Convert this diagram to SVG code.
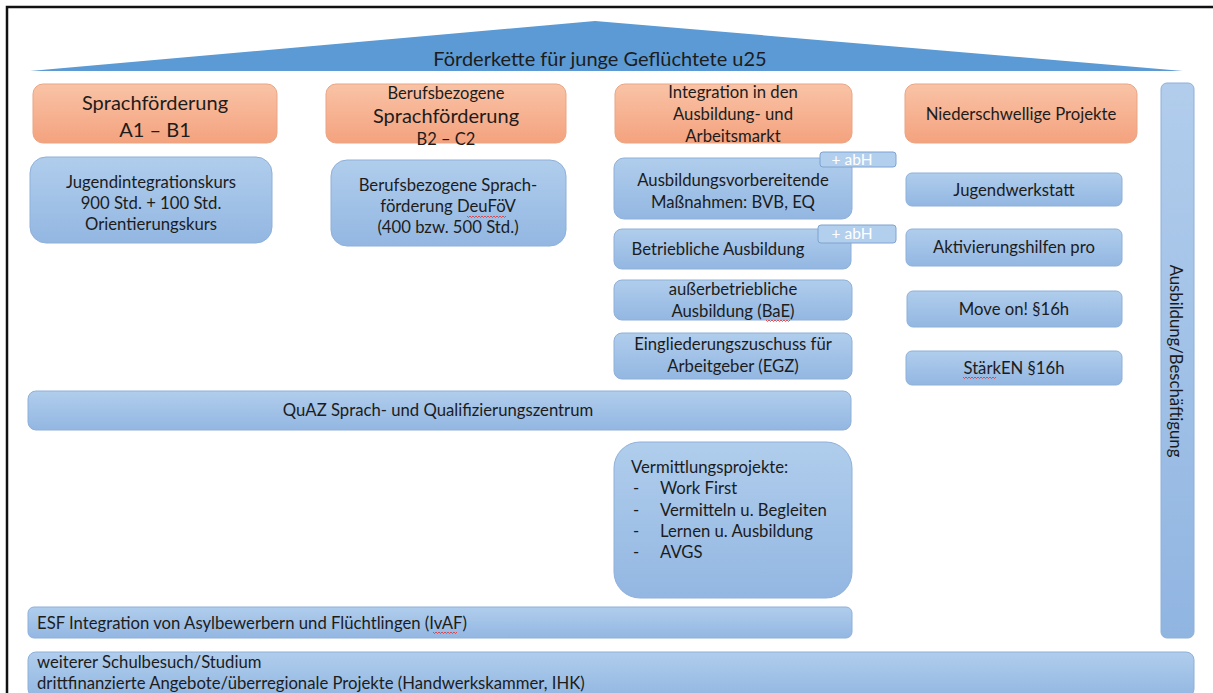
<svg xmlns="http://www.w3.org/2000/svg" width="1213" height="693" viewBox="0 0 1213 693">
<defs>
<linearGradient id="gOr" x1="0" y1="0" x2="0" y2="1"><stop offset="0" stop-color="#f9c3a6"/><stop offset="1" stop-color="#f4a27e"/></linearGradient>
<linearGradient id="gBl" x1="0" y1="0" x2="0" y2="1"><stop offset="0" stop-color="#b0cdec"/><stop offset="1" stop-color="#93b7e2"/></linearGradient>
<linearGradient id="gBlV" x1="0" y1="0" x2="0" y2="1"><stop offset="0" stop-color="#b2cdec"/><stop offset="1" stop-color="#90b5e1"/></linearGradient>
</defs>
<style>
text{font-family:Lato,"Liberation Sans",sans-serif;fill:#1c1c1c;font-size:16.7px;}
.or{fill:url(#gOr);stroke:#e9a585;stroke-width:1;}
.bl{fill:url(#gBl);stroke:#8eb0d9;stroke-width:1;}
.tab{fill:#b3cfee;stroke:#7fa3cf;stroke-width:1;}
.tabt{fill:#ffffff;font-size:15.5px;text-anchor:middle;}
.c{text-anchor:middle;}
.big{font-size:20px;}
.sm{font-size:16.5px;}
.sq{fill:none;stroke:#e03030;stroke-width:0.8;}
</style>
<rect x="0" y="0" width="1213" height="693" fill="#ffffff"/>
<path d="M7 693 V7 H1213" fill="none" stroke="#111" stroke-width="2.5"/>

<g id="roof">
<polygon points="30,71 595,21 1183,71" fill="#5b9ad4"/>
<text x="600" y="66" class="c big">Förderkette für junge Geflüchtete u25</text>
</g>

<g id="sprach-a1b1">
<rect class="or" x="33" y="84" width="244" height="59" rx="10"/>
<text x="155" y="110" class="c big">Sprachförderung</text>
<text x="155" y="137" class="c big">A1 – B1</text>
</g>
<g id="sprach-b2c2">
<rect class="or" x="326" y="84" width="240" height="59" rx="10"/>
<text x="446" y="98.5" class="c sm">Berufsbezogene</text>
<text x="446" y="123" class="c big">Sprachförderung</text>
<text x="446" y="144.5" class="c sm">B2 – C2</text>
</g>
<g id="integration">
<rect class="or" x="615" y="84" width="237" height="59" rx="10"/>
<text x="733" y="97.5" class="c">Integration in den</text>
<text x="733" y="119.5" class="c">Ausbildung- und</text>
<text x="733" y="141.5" class="c">Arbeitsmarkt</text>
</g>
<g id="niederschwellig">
<rect class="or" x="905" y="84" width="232" height="59" rx="10"/>
<text x="1021" y="120" class="c">Niederschwellige Projekte</text>
</g>

<g id="ausbildung-beschaeftigung">
<rect class="bl" x="1161" y="83" width="33" height="555" rx="6" style="fill:url(#gBlV)"/>
<text transform="translate(1170 361) rotate(90)" class="c" font-size="17">Ausbildung/Beschäftigung</text>
</g>

<g id="jugendintegrationskurs">
<rect class="bl" x="30" y="157" width="242" height="86" rx="16"/>
<text x="151" y="188" class="c">Jugendintegrationskurs</text>
<text x="151" y="209" class="c">900 Std. + 100 Std.</text>
<text x="151" y="230" class="c">Orientierungskurs</text>
</g>
<g id="deufoev">
<rect class="bl" x="331" y="160" width="235" height="86" rx="16"/>
<text x="448" y="191" class="c">Berufsbezogene Sprach-</text>
<text x="448" y="212" class="c">förderung DeuFöV</text>
<text x="448" y="233" class="c">(400 bzw. 500 Std.)</text>
<path class="sq" d="M467 216 l1.5 1.5 1.5 -1.5 1.5 1.5 1.5 -1.5 1.5 1.5 1.5 -1.5 1.5 1.5 1.5 -1.5 1.5 1.5 1.5 -1.5 1.5 1.5 1.5 -1.5 1.5 1.5 1.5 -1.5 1.5 1.5 1.5 -1.5 1.5 1.5 1.5 -1.5 1.5 1.5 1.5 -1.5 1.5 1.5 1.5 -1.5 1.5 1.5 1.5 -1.5 1.5 1.5 1.5 -1.5"/>
</g>

<g id="bvb-eq">
<rect class="bl" x="614" y="158" width="238" height="61" rx="10"/>
<text x="733" y="186" class="c">Ausbildungsvorbereitende</text>
<text x="733" y="208" class="c">Maßnahmen: BVB, EQ</text>
<rect class="tab" x="820" y="152" width="76" height="15" rx="3"/>
<text x="852" y="165" class="tabt">+ abH</text>
</g>
<g id="betriebliche-ausbildung">
<rect class="bl" x="614" y="229" width="237" height="40" rx="8"/>
<text x="718" y="255" class="c">Betriebliche Ausbildung</text>
<rect class="tab" x="818" y="225" width="78" height="18" rx="3"/>
<text x="852" y="239" class="tabt">+ abH</text>
</g>
<g id="bae">
<rect class="bl" x="614" y="280" width="238" height="40" rx="8"/>
<text x="733" y="295" class="c">außerbetriebliche</text>
<text x="733" y="317" class="c">Ausbildung (BaE)</text>
<path class="sq" d="M766 320 l1.5 1.5 1.5 -1.5 1.5 1.5 1.5 -1.5 1.5 1.5 1.5 -1.5 1.5 1.5 1.5 -1.5 1.5 1.5 1.5 -1.5 1.5 1.5 1.5 -1.5 1.5 1.5 1.5 -1.5 1.5 1.5 1.5 -1.5"/>
</g>
<g id="egz">
<rect class="bl" x="614" y="333" width="238" height="46" rx="8"/>
<text x="733" y="350" class="c">Eingliederungszuschuss für</text>
<text x="733" y="372" class="c">Arbeitgeber (EGZ)</text>
</g>

<g id="jugendwerkstatt">
<rect class="bl" x="906" y="173" width="216" height="33" rx="6"/>
<text x="1014" y="196" class="c">Jugendwerkstatt</text>
</g>
<g id="aktivierungshilfen">
<rect class="bl" x="906" y="229" width="216" height="37" rx="6"/>
<text x="1014" y="253" class="c">Aktivierungshilfen pro</text>
</g>
<g id="move-on">
<rect class="bl" x="907" y="291" width="215" height="36" rx="6"/>
<text x="1014" y="315" class="c">Move on! §16h</text>
</g>
<g id="staerken">
<rect class="bl" x="906" y="351" width="216" height="34" rx="6"/>
<text x="1014" y="374" class="c">StärkEN §16h</text>
<path class="sq" d="M963 377 l1.5 1.5 1.5 -1.5 1.5 1.5 1.5 -1.5 1.5 1.5 1.5 -1.5 1.5 1.5 1.5 -1.5 1.5 1.5 1.5 -1.5 1.5 1.5 1.5 -1.5 1.5 1.5 1.5 -1.5 1.5 1.5 1.5 -1.5 1.5 1.5 1.5 -1.5 1.5 1.5 1.5 -1.5 1.5 1.5 1.5 -1.5"/>
</g>

<g id="quaz">
<rect class="bl" x="28" y="391" width="823" height="39" rx="8"/>
<text x="438" y="416" class="c">QuAZ Sprach- und Qualifizierungszentrum</text>
</g>

<g id="vermittlungsprojekte">
<rect class="bl" x="614" y="442" width="238" height="156" rx="26"/>
<text x="631" y="473">Vermittlungsprojekte:</text>
<text x="633" y="494">-</text><text x="660" y="494">Work First</text>
<text x="633" y="516">-</text><text x="660" y="516">Vermitteln u. Begleiten</text>
<text x="633" y="537">-</text><text x="660" y="537">Lernen u. Ausbildung</text>
<text x="633" y="558">-</text><text x="660" y="558">AVGS</text>
</g>

<g id="esf-ivaf">
<rect class="bl" x="28" y="607" width="824" height="31" rx="6"/>
<text x="37" y="629">ESF Integration von Asylbewerbern und Flüchtlingen (IvAF)</text>
<path class="sq" d="M433 632 l1.5 1.5 1.5 -1.5 1.5 1.5 1.5 -1.5 1.5 1.5 1.5 -1.5 1.5 1.5 1.5 -1.5 1.5 1.5 1.5 -1.5 1.5 1.5 1.5 -1.5 1.5 1.5 1.5 -1.5 1.5 1.5 1.5 -1.5"/>
</g>

<g id="weiterer">
<rect class="bl" x="28" y="652" width="1166" height="45" rx="8"/>
<text x="37" y="668">weiterer Schulbesuch/Studium</text>
<text x="37" y="689">drittfinanzierte Angebote/überregionale Projekte (Handwerkskammer, IHK)</text>
</g>

<g id="connectors"></g>
</svg>
